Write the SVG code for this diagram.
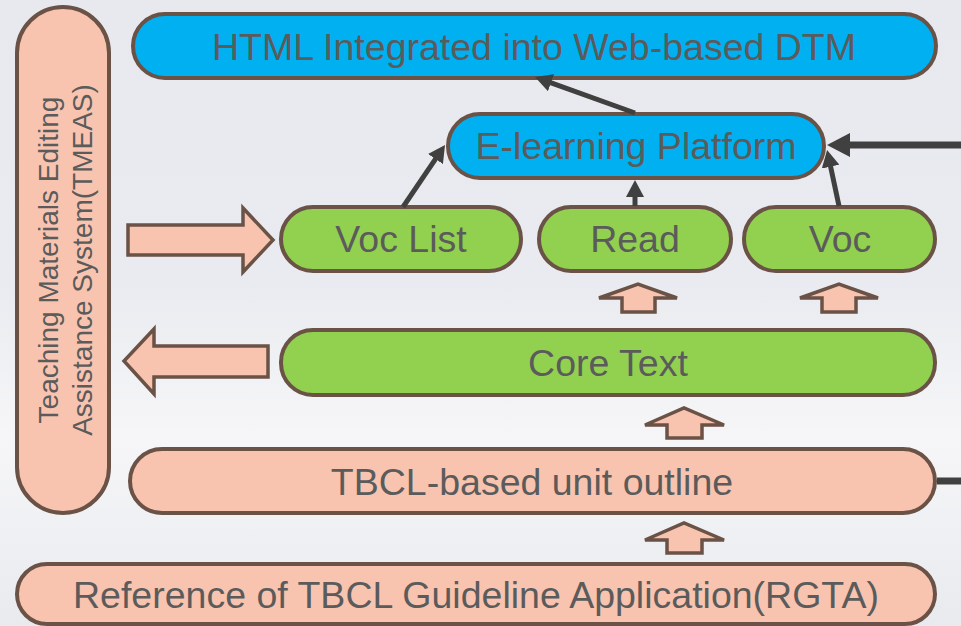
<svg xmlns="http://www.w3.org/2000/svg" width="961" height="626" viewBox="0 0 961 626">
<defs>
<linearGradient id="bg" x1="0" y1="0" x2="0" y2="1">
<stop offset="0" stop-color="#e7e9ee"/>
<stop offset="0.45" stop-color="#e9ebf0"/>
<stop offset="0.7" stop-color="#f6f6f8"/>
<stop offset="1" stop-color="#e8eaee"/>
</linearGradient>
<marker id="ah" markerUnits="userSpaceOnUse" markerWidth="18" markerHeight="18" refX="2" refY="9" orient="auto" viewBox="0 0 18 18">
<path d="M0,0 L17,9 L0,18 z" fill="#404040"/>
</marker>
<marker id="ahb" markerUnits="userSpaceOnUse" markerWidth="24" markerHeight="24" refX="3" refY="12" orient="auto" viewBox="0 0 24 24">
<path d="M0,0 L23,12 L0,24 z" fill="#404040"/>
</marker>
<style>
.n{stroke:#6a5247;stroke-width:4}
.blue{fill:#00b0f0}
.green{fill:#92d050}
.sal{fill:#f8c4b0}
.t{font-family:"Liberation Sans",Arial,sans-serif;font-size:37.5px;fill:#5b5b5b;text-anchor:middle}
.ts{font-family:"Liberation Sans",Arial,sans-serif;font-size:28px;fill:#5b5b5b;text-anchor:middle}
.fat{fill:#f8c4b0;stroke:#6a5247;stroke-width:3.5;stroke-linejoin:miter}
.c{stroke:#404040;stroke-width:5;fill:none}
</style>
</defs>
<rect width="961" height="626" fill="url(#bg)"/>
<g id="tmeas">
<rect class="n sal" x="17" y="7" width="92" height="506" rx="46"/>
<text class="ts" transform="translate(58,260) rotate(-90)">Teaching Materials Editing</text>
<text class="ts" transform="translate(92,260) rotate(-90)">Assistance System(TMEAS)</text>
</g>
<g id="html">
<rect class="n blue" x="133" y="14" width="803" height="64" rx="32"/>
<text class="t" x="534" y="60">HTML Integrated into Web-based DTM</text>
</g>
<g id="elearning">
<rect class="n blue" x="448" y="114" width="376" height="64" rx="32"/>
<text class="t" x="636" y="159">E-learning Platform</text>
</g>
<g id="voclist">
<rect class="n green" x="281" y="207" width="240" height="64" rx="32"/>
<text class="t" x="401" y="252">Voc List</text>
</g>
<g id="read">
<rect class="n green" x="539" y="207" width="192" height="64" rx="32"/>
<text class="t" x="635" y="252">Read</text>
</g>
<g id="voc">
<rect class="n green" x="744" y="207" width="191" height="64" rx="32"/>
<text class="t" x="840" y="252">Voc</text>
</g>
<g id="coretext">
<rect class="n green" x="281" y="330" width="654" height="65" rx="32"/>
<text class="t" x="608" y="376">Core Text</text>
</g>
<g id="tbcl">
<rect class="n sal" x="130" y="449" width="805" height="64" rx="32"/>
<text class="t" x="532" y="495">TBCL-based unit outline</text>
</g>
<g id="rgta">
<rect class="n sal" x="17" y="564" width="918" height="60" rx="30"/>
<text class="t" x="476" y="608">Reference of TBCL Guideline Application(RGTA)</text>
</g>
<g id="connectors">
<polygon class="fat" points="128,225 243,225 243,208 273,240 243,272 243,255 128,255"/>
<polygon class="fat" points="268,346 154,346 154,329 124,361 154,394 154,377 268,377"/>
<polygon class="fat" points="622,312 622,298 599,298 638,284 677,298 655,298 655,312"/>
<polygon class="fat" points="822,312 822,298 800,298 839,284 878,298 856,298 856,312"/>
<polygon class="fat" points="667,438 667,425 645,425 684,408 724,425 702,425 702,438"/>
<polygon class="fat" points="667,553 667,540 645,540 684,523 724,540 702,540 702,553"/>
<line class="c" x1="403" y1="207" x2="436.6" y2="157.4" marker-end="url(#ah)"/>
<line class="c" x1="635" y1="113" x2="549.1" y2="82.1" marker-end="url(#ah)"/>
<line class="c" x1="635" y1="206" x2="635" y2="195" marker-end="url(#ah)"/>
<line class="c" x1="839" y1="206" x2="830.2" y2="164.7" marker-end="url(#ah)"/>
<line x1="961" y1="145" x2="847" y2="145" stroke="#404040" stroke-width="7" marker-end="url(#ahb)"/>
<line x1="937" y1="481" x2="961" y2="481" stroke="#404040" stroke-width="7"/>
</g>
</svg>
